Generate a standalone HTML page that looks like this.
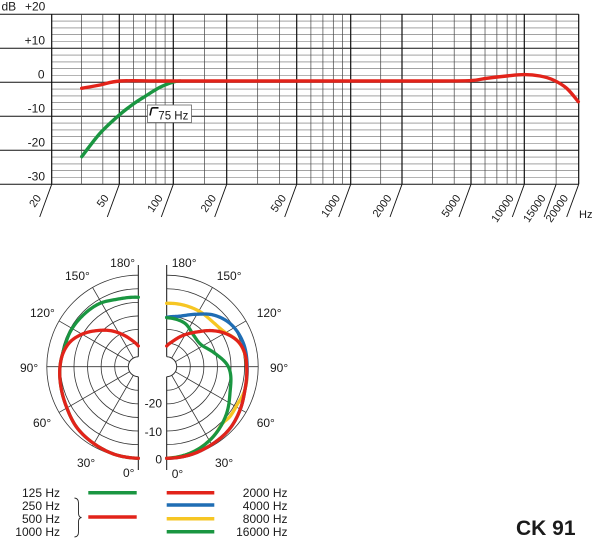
<!DOCTYPE html>
<html><head><meta charset="utf-8">
<style>
html,body{margin:0;padding:0;background:#fff;}
svg{display:block;}
text{font-family:"Liberation Sans",Arial,sans-serif;fill:#1a1a1a;}
</style></head>
<body>
<svg id="s" width="600" height="543" xmlns="http://www.w3.org/2000/svg">
<rect x="0" y="0" width="600" height="543" fill="#fff"/>
<g id="grid"></g>
<g id="curves"></g>
<g id="labels" font-size="12">
  <!-- FR axis labels -->
  <text x="1.5" y="10.5">dB</text>
  <text x="25" y="10.5">+20</text>
  <text x="45" y="44.5" text-anchor="end">+10</text>
  <text x="44.5" y="78.5" text-anchor="end">0</text>
  <text x="45" y="112.5" text-anchor="end">-10</text>
  <text x="45" y="146.5" text-anchor="end">-20</text>
  <text x="45" y="180.5" text-anchor="end">-30</text>
  <text x="579" y="218" font-size="11">Hz</text>
  <!-- 75 Hz box -->
  <rect x="147.5" y="105" width="44" height="17.5" fill="#fff" stroke="#666" stroke-width="0.8"/>
  <path d="M150,115.5 L151.4,109 Q151.8,107.8 153.2,107.8 L158.5,107.8" fill="none" stroke="#111" stroke-width="1.6"/>
  <text x="158.3" y="119.5" font-size="11.5">75 Hz</text>
  <!-- polar labels left -->
  <text x="135" y="267" text-anchor="end">180°</text>
  <text x="65" y="280">150°</text>
  <text x="30" y="317">120°</text>
  <text x="20" y="372">90°</text>
  <text x="33" y="427">60°</text>
  <text x="77" y="467">30°</text>
  <text x="123" y="477">0°</text>
  <!-- polar labels right -->
  <text x="171.7" y="267">180°</text>
  <text x="216.7" y="280">150°</text>
  <text x="256.7" y="317">120°</text>
  <text x="270" y="372">90°</text>
  <text x="256.7" y="427">60°</text>
  <text x="215" y="467">30°</text>
  <text x="171.7" y="478">0°</text>
  <text x="162" y="407.5" text-anchor="end">-20</text>
  <text x="162" y="436" text-anchor="end">-10</text>
  <text x="162" y="463.5" text-anchor="end">0</text>
  <!-- legend -->
  <text x="60" y="497" text-anchor="end">125 Hz</text>
  <text x="60" y="510" text-anchor="end">250 Hz</text>
  <text x="60" y="523" text-anchor="end">500 Hz</text>
  <text x="60" y="536" text-anchor="end">1000 Hz</text>
  <text x="287.5" y="497" text-anchor="end">2000 Hz</text>
  <text x="287.5" y="510" text-anchor="end">4000 Hz</text>
  <text x="287.5" y="523" text-anchor="end">8000 Hz</text>
  <text x="287.5" y="536" text-anchor="end">16000 Hz</text>
  <path d="M74.5,498 Q78.5,498.3 78.5,503 L78.5,513 Q78.5,517.3 81.5,517.5 Q78.5,517.8 78.5,522 L78.5,532 Q78.5,536.7 74.5,537" fill="none" stroke="#222" stroke-width="0.9"/>
  <line x1="88.3" y1="492.7" x2="136.7" y2="492.7" stroke="#1a9641" stroke-width="3.5"/>
  <line x1="88.3" y1="517" x2="136.7" y2="517" stroke="#e2231a" stroke-width="3.5"/>
  <line x1="166.7" y1="492.7" x2="214.3" y2="492.7" stroke="#e2231a" stroke-width="3.5"/>
  <line x1="166.7" y1="505" x2="214.3" y2="505" stroke="#1f6db4" stroke-width="3.5"/>
  <line x1="166.7" y1="518.7" x2="214.3" y2="518.7" stroke="#f6c623" stroke-width="3.5"/>
  <line x1="166.7" y1="531.7" x2="214.3" y2="531.7" stroke="#1a9641" stroke-width="3.5"/>
  <text x="516" y="535" font-size="21" font-weight="bold">CK 91</text>
</g>
</svg>
<script>
(function(){
const NS='http://www.w3.org/2000/svg';
function el(p,tag,a,txt){const e=document.createElementNS(NS,tag);for(const k in a)e.setAttribute(k,a[k]);if(txt!==undefined)e.textContent=txt;p.appendChild(e);return e;}
function ln(p,x1,y1,x2,y2,c,w){el(p,'line',{x1:x1,y1:y1,x2:x2,y2:y2,stroke:c,'stroke-width':w});}
const grid=document.getElementById('grid');
const curves=document.getElementById('curves');
const RED='#e2231a',GREEN='#1a9641',BLUE='#1f6db4',YEL='#f6c623';

// ---------- Frequency response ----------
const majors=[[20,51.7],[50,119.3],[100,173.3],[200,226.7],[500,296.7],[1000,350.7],[2000,402],[5000,471],[10000,524.3],[20000,578.7]];
function fx(f){for(let i=0;i<majors.length-1;i++){const [f0,x0]=majors[i],[f1,x1]=majors[i+1];if(f<=f1)return x0+(x1-x0)*Math.log(f/f0)/Math.log(f1/f0);}return 578.7;}
const yd=db=>82.3-db*3.4;
for(let db=-30;db<=20;db+=2){
  if(db%10===0) ln(grid,0,yd(db),578.7,yd(db),'#111',1);
  else ln(grid,51.7,yd(db),578.7,yd(db),'#6a6a6a',0.6);
}
const minors=[30,40,60,70,80,90,150,300,400,600,700,800,900,1500,3000,4000,6000,7000,8000,9000,15000];
minors.forEach(f=>{const x=fx(f);ln(grid,x,14.3,x,184.3,'#444',0.7);});
majors.forEach(([f,x])=>{ln(grid,x,14.3,x,184.3,'#111',1.2);});
const labs=[20,50,100,200,500,1000,2000,5000,10000,15000,20000];
labs.forEach(f=>{
  const x=fx(f);
  ln(grid,x,184.3,x-12,217,'#111',0.9);
  el(grid,'text',{x:x-10,y:198,'text-anchor':'end','font-size':11,transform:'rotate(-55 '+(x-10)+' 198)'},String(f));
});

function smooth(pts){
  let d='M'+pts[0][0].toFixed(2)+','+pts[0][1].toFixed(2);
  const n=pts.length;
  for(let i=0;i<n-1;i++){
    const p0=pts[Math.max(i-1,0)],p1=pts[i],p2=pts[i+1],p3=pts[Math.min(i+2,n-1)];
    const c1=[p1[0]+(p2[0]-p0[0])/6,p1[1]+(p2[1]-p0[1])/6];
    const c2=[p2[0]-(p3[0]-p1[0])/6,p2[1]-(p3[1]-p1[1])/6];
    d+=' C'+c1[0].toFixed(2)+','+c1[1].toFixed(2)+' '+c2[0].toFixed(2)+','+c2[1].toFixed(2)+' '+p2[0].toFixed(2)+','+p2[1].toFixed(2);
  }
  return d;
}
function curve(pts,c,w){el(curves,'path',{d:smooth(pts),fill:'none',stroke:c,'stroke-width':w,'stroke-linecap':'round','stroke-linejoin':'round'});}

const frGreen=[[81.7,156.7],[100,133.3],[119.3,115],[133.3,104],[143.3,97.5],[160,87.3],[173.3,82],[180,81]];
const frRed=[[81.7,88.3],[100,85],[120,81],[160,81],[220,81],[300,81],[380,81],[440,81],[471,80.6],[486.7,78.3],[506.7,76],[524.3,74.6],[540,76],[553.3,80],[566.7,88.3],[578.3,101.7]];
curve(frGreen,GREEN,3.4);
curve(frRed,RED,3.4);

// ---------- Polar ----------
const CY=366.7, R0=91.5, RI=10;
const pg=grid;
function halfGrid(cx,side){
  const sweep=side<0?0:1;
  for(let k=0;k<=6;k++){
    const r=RI+k*(R0-RI)/6;
    el(pg,'path',{d:'M'+cx+','+(CY-r)+' A'+r+','+r+' 0 0 '+sweep+' '+cx+','+(CY+r),fill:'none',stroke:'#333','stroke-width':k===0?1:0.8});
  }
  [30,60,90,120,150].forEach(t=>{
    const a=t*Math.PI/180;
    ln(pg,cx+side*RI*Math.sin(a),CY+RI*Math.cos(a),cx+side*R0*Math.sin(a),CY+R0*Math.cos(a),'#333',0.8);
  });
  ln(pg,cx,265,cx,CY-RI,'#111',1);
  ln(pg,cx,CY+RI,cx,470,'#111',1);
}
halfGrid(138.3,-1);
halfGrid(166.7,1);

// Hermite interpolation of r(theta), sampled every degree
function sample(list){
  const a=list.slice().sort((p,q)=>p[0]-q[0]);
  const n=a.length, m=[];
  for(let i=0;i<n;i++){
    if(i===0) m.push((a[1][1]-a[0][1])/(a[1][0]-a[0][0]));
    else if(i===n-1) m.push((a[n-1][1]-a[n-2][1])/(a[n-1][0]-a[n-2][0]));
    else m.push(((a[i+1][1]-a[i][1])/(a[i+1][0]-a[i][0])+(a[i][1]-a[i-1][1])/(a[i][0]-a[i-1][0]))/2);
  }
  const out=[];
  const t0=a[n-1][0], t1=a[0][0];
  for(let t=t0;t>=t1-1e-9;t-=1){
    let i=0; while(i<n-2 && t>a[i+1][0]) i++;
    const h=a[i+1][0]-a[i][0], s=(t-a[i][0])/h;
    const h00=2*s*s*s-3*s*s+1,h10=s*s*s-2*s*s+s,h01=-2*s*s*s+3*s*s,h11=s*s*s-s*s;
    out.push([t,h00*a[i][1]+h10*h*m[i]+h01*a[i+1][1]+h11*h*m[i+1]]);
  }
  return out;
}
function pcurve(cx,side,list,c,w){
  const pts=sample(list).map(([t,r])=>{const a=t*Math.PI/180;return [cx+side*r*Math.sin(a),CY+r*Math.cos(a)];});
  let d='M'+pts.map(p=>p[0].toFixed(2)+','+p[1].toFixed(2)).join(' L');
  el(curves,'path',{d:d,fill:'none',stroke:c,'stroke-width':w,'stroke-linecap':'round','stroke-linejoin':'round'});
}

const lGreen=[[180,69.4],[162,70.8],[149,74],[133,75.5],[117,76.5],[105,76.3],[90,78.3],[75,80],[60,82.5],[45,86.5],[30,88.8],[15,90.8],[0,91.6]];
const lRed=[[180,20.7],[165,28],[155,35],[142,45.8],[131,55],[120,65],[110,72.5],[100,76.5],[90,78.3],[75,80],[60,82.5],[45,86.5],[30,88.8],[15,90.8],[0,91.6]];
pcurve(138.3,-1,lGreen,GREEN,3.3);
pcurve(138.3,-1,lRed,RED,3.3);

const rYel=[[180,63.4],[165,63.9],[149,64.3],[132,64.5],[121,67.5],[110,75.5],[100,79],[90,80],[75,81.5],[68,81],[62,80],[56,80.3],[51,80.5],[45,79.5],[33.6,84],[20,88.5],[10,90.5],[0,91.6]];
const rBlue=[[180,49.4],[165,52.4],[150,60.6],[138,69.6],[124,76.8],[107,80.2],[90,80.5],[73,81.7],[60,85],[45,88.5],[30,89.9],[15,91.2],[0,91.6]];
const rGreen=[[180,49],[168,48.3],[157,47],[140,41.5],[122,41],[105.5,50],[90,61.6],[67,68.7],[52,76],[33.6,84],[20,88.5],[10,90.5],[0,91.6]];
const rRed=[[180,20.7],[165,27],[156,32.8],[139,46],[128,58.5],[119,68],[108,76.5],[98,79.5],[90,80],[73,81.7],[60,85],[45,88.5],[30,89.9],[15,91.2],[0,91.6]];
pcurve(166.7,1,rYel,YEL,3.3);
pcurve(166.7,1,rBlue,BLUE,3.3);
pcurve(166.7,1,rGreen,GREEN,3.3);
pcurve(166.7,1,rRed,RED,3.3);
})();
</script>
</body></html>
